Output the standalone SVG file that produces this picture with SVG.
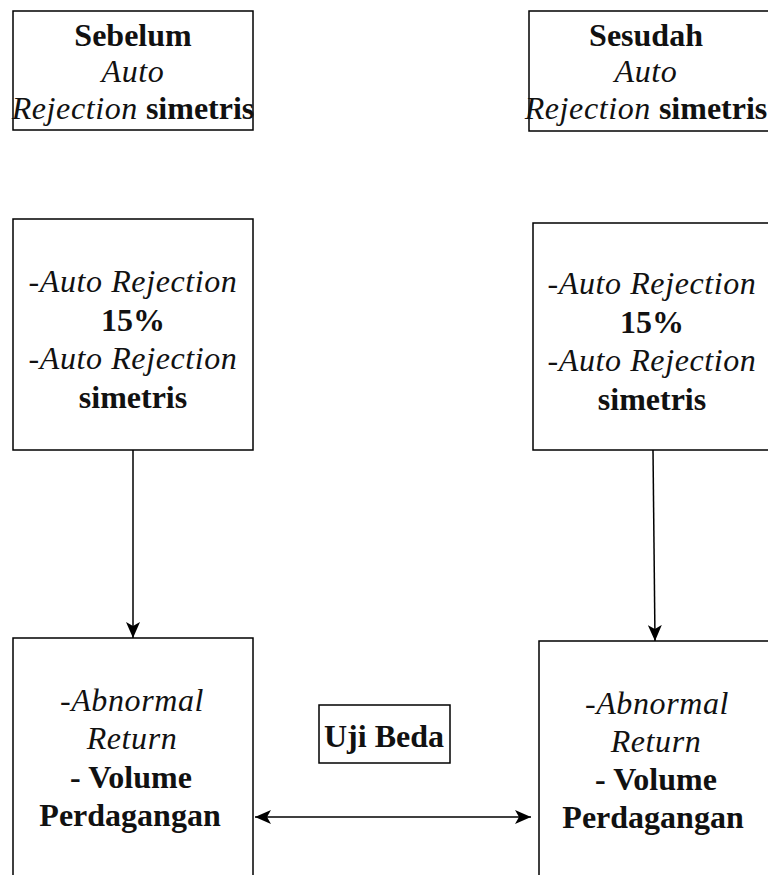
<svg xmlns="http://www.w3.org/2000/svg" width="768" height="875" viewBox="0 0 768 875">
<defs>
<style>
.box{fill:#fff;stroke:#000;stroke-width:1.5}
.t{font-family:"Liberation Serif","Times New Roman",serif;font-size:32px;fill:#111;text-anchor:middle}
.b{font-weight:bold}
.i{font-style:italic;letter-spacing:0.6px}
.c{stroke:#000;stroke-width:1.5;fill:none}
</style>
<marker id="ah" viewBox="0 0 16 14" refX="16" refY="7" markerWidth="16" markerHeight="14" markerUnits="userSpaceOnUse" orient="auto-start-reverse">
<path d="M0,0 L16,7 L0,14 L4,7 Z" fill="#000"/>
</marker>
</defs>
<rect width="768" height="875" fill="#fff"/>
<g id="connectors">
<line class="c" x1="133" y1="450" x2="133" y2="638" marker-end="url(#ah)"/>
<line class="c" x1="653" y1="450" x2="655" y2="641" marker-end="url(#ah)"/>
<line class="c" x1="255" y1="817" x2="531" y2="817" marker-start="url(#ah)" marker-end="url(#ah)"/>
</g>
<g id="sebelum">
<rect class="box" x="13" y="11" width="240" height="119"/>
<text class="t b" x="133" y="46">Sebelum</text>
<text class="t i" x="133" y="82">Auto</text>
<text class="t" x="133" y="119"><tspan class="i">Rejection</tspan> <tspan class="b">simetris</tspan></text>
</g>
<g id="sesudah">
<rect class="box" x="529" y="11" width="260" height="120"/>
<text class="t b" x="646" y="46">Sesudah</text>
<text class="t i" x="646" y="82">Auto</text>
<text class="t" x="646" y="119"><tspan class="i">Rejection</tspan> <tspan class="b">simetris</tspan></text>
</g>
<g id="var-kiri">
<rect class="box" x="13" y="219" width="240" height="231"/>
<text class="t i" x="133" y="292">-Auto Rejection</text>
<text class="t b" x="133" y="331">15%</text>
<text class="t i" x="133" y="369">-Auto Rejection</text>
<text class="t b" x="133" y="408">simetris</text>
</g>
<g id="var-kanan">
<rect class="box" x="533" y="223" width="260" height="227"/>
<text class="t i" x="652" y="294">-Auto Rejection</text>
<text class="t b" x="652" y="333">15%</text>
<text class="t i" x="652" y="371">-Auto Rejection</text>
<text class="t b" x="652" y="410">simetris</text>
</g>
<g id="hasil-kiri">
<rect class="box" x="13" y="638" width="240" height="260"/>
<text class="t i" x="132" y="711">-Abnormal</text>
<text class="t i" x="132" y="749">Return</text>
<text class="t b" x="131" y="788">- Volume</text>
<text class="t b" x="130" y="826">Perdagangan</text>
</g>
<g id="hasil-kanan">
<rect class="box" x="539" y="641" width="260" height="260"/>
<text class="t i" x="657" y="714">-Abnormal</text>
<text class="t i" x="656" y="752">Return</text>
<text class="t b" x="656" y="790">- Volume</text>
<text class="t b" x="653" y="828">Perdagangan</text>
</g>
<g id="uji-beda">
<rect class="box" x="319" y="705" width="131" height="58"/>
<text class="t b" x="384" y="747">Uji Beda</text>
</g>
</svg>
